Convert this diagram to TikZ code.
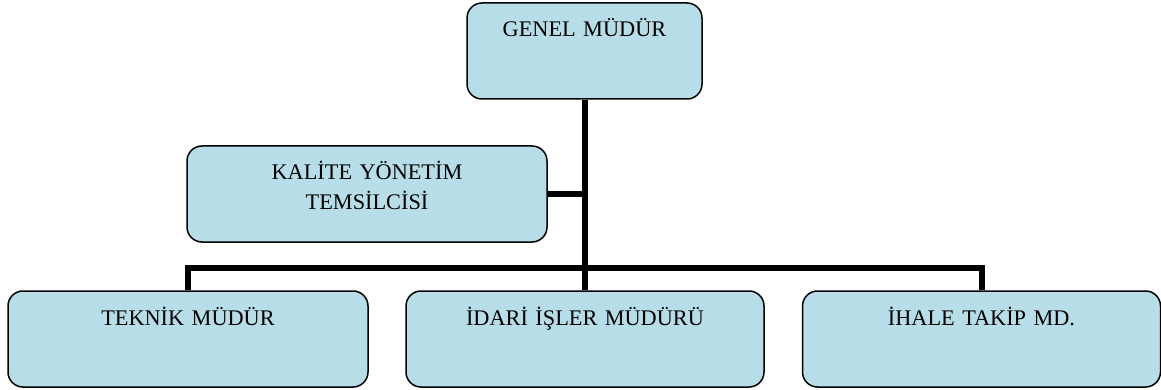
\documentclass[tikz,border=0pt]{standalone}
\usepackage{fontspec}
\setmainfont{Liberation Serif}
\definecolor{boxfill}{HTML}{B7DEE8}
\begin{document}
\begin{tikzpicture}[x=1pt,y=-1pt,
  orgbox/.style={draw=black, line width=1.5pt, fill=boxfill, rounded corners=15pt,
    rectangle, inner sep=0pt, minimum height=96pt, text width=#1, align=center,
    text height=34pt, text depth=62pt, font=\fontsize{22.3}{29}\selectfont},
  conn/.style={draw=black, line width=6pt, line join=miter}]
\useasboundingbox (0,0) rectangle (1161,390);
\node[orgbox=235pt, minimum width=235pt] (genel) at (584.5,51) {GENEL MÜDÜR};
\node[orgbox=360pt, minimum width=360pt] (kalite) at (367,194) {KALİTE YÖNETİM\\TEMSİLCİSİ};
\node[orgbox=360pt, minimum width=360pt] (teknik) at (188,339) {TEKNİK MÜDÜR};
\node[orgbox=358pt, minimum width=358pt] (idari) at (585,339) {İDARİ İŞLER MÜDÜRÜ};
\node[orgbox=358pt, minimum width=358pt] (ihale) at (981.5,339) {İHALE TAKİP MD.};
\coordinate (bus) at (0,267.5);
\draw[conn] (genel.south) -- (genel.south |- bus);
\draw[conn] (kalite.east) -- (kalite.east -| genel.south);
\draw[conn] (teknik.north) -- (teknik.north |- bus) -| (ihale.north);
\draw[conn] (idari.north) -- (idari.north |- bus);
\end{tikzpicture}
\end{document}
